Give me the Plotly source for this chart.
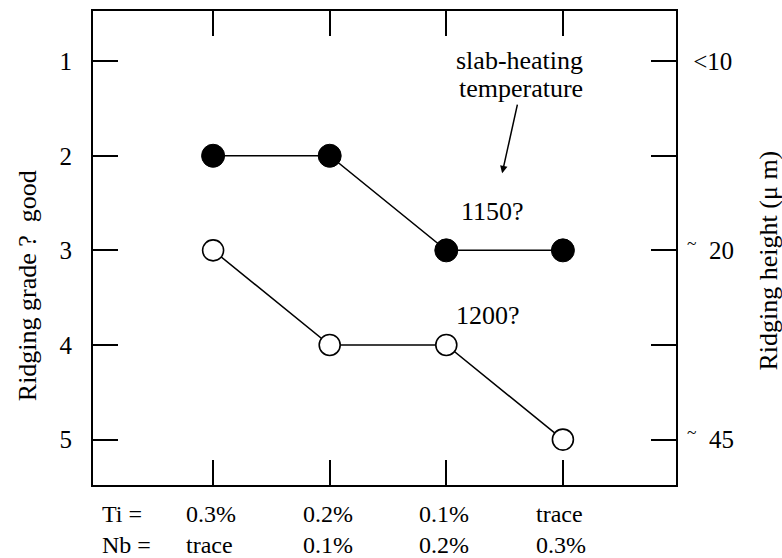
import plotly.graph_objects as go

# Ti / Nb composition of each steel (x categories)
ti_levels = ["0.3%", "0.2%", "0.1%", "trace"]
nb_levels = ["trace", "0.1%", "0.2%", "0.3%"]
x_idx = [0, 1, 2, 3]

# Ridging grade for the two slab-heating temperatures
grade_1150 = [2, 2, 3, 3]
grade_1200 = [3, 4, 4, 5]

# Left axis: ridging grade; right axis: ridging height (um) at selected grades
grade_ticks = [1, 2, 3, 4, 5]
height_ticks = [1, 3, 5]
height_labels = ["\u00a0<10", "<sup>~</sup>\u00a0\u00a020", "<sup>~</sup>\u00a0\u00a045"]

FONT = "Liberation Serif"
BLACK = "#000000"


def serif(size):
    return dict(family=FONT, size=size, color=BLACK)


fig = go.Figure()

fig.add_trace(go.Scatter(
    x=x_idx, y=grade_1150, mode="lines+markers",
    line=dict(color=BLACK, width=1.5),
    marker=dict(symbol="circle", size=23, color=BLACK, line=dict(color=BLACK, width=1)),
    showlegend=False, hoverinfo="skip",
))
fig.add_trace(go.Scatter(
    x=x_idx, y=grade_1200, mode="lines+markers",
    line=dict(color=BLACK, width=1.5),
    marker=dict(symbol="circle", size=21, color="white", line=dict(color=BLACK, width=1.6)),
    showlegend=False, hoverinfo="skip",
))
# carrier for the right-hand height axis
fig.add_trace(go.Scatter(x=[None], y=[None], yaxis="y2", showlegend=False, hoverinfo="skip"))

yrange = [5.48, 0.47]

fig.update_layout(
    width=782, height=558,
    margin=dict(l=93, r=106, t=9, b=73),
    paper_bgcolor="white", plot_bgcolor="white",
    font=serif(24),
    xaxis=dict(
        range=[-1.03, 3.97], tickvals=x_idx, showticklabels=False,
        ticks="inside", ticklen=25, tickwidth=1.5, tickcolor=BLACK,
        showline=True, linewidth=2, linecolor=BLACK, mirror="ticks",
        showgrid=False, zeroline=False,
    ),
    yaxis=dict(
        range=yrange, tickvals=grade_ticks, ticktext=[str(v) for v in grade_ticks],
        tickfont=serif(25),
        ticks="inside", ticklen=25, tickwidth=1.5, tickcolor=BLACK,
        ticklabelstandoff=14,
        showline=True, linewidth=2, linecolor=BLACK, mirror="ticks",
        showgrid=False, zeroline=False,
    ),
    yaxis2=dict(
        range=yrange, overlaying="y", side="right",
        tickvals=height_ticks, ticktext=height_labels,
        tickfont=serif(25),
        ticks="", ticklabelstandoff=10,
        showline=False, showgrid=False, zeroline=False,
    ),
)

annotations = []

# composition labels under each steel
for i, (ti, nb) in enumerate(zip(ti_levels, nb_levels)):
    annotations.append(dict(
        x=i - 0.25, y=0, xref="x", yref="paper", yanchor="top", xanchor="left",
        yshift=-14, text=f"{ti}<br>{nb}", align="left", showarrow=False,
        font=serif(24),
    ))
annotations.append(dict(
    x=0.012, y=0, xref="paper", yref="paper", yanchor="top", xanchor="left",
    yshift=-14, text="Ti =<br>Nb =", align="left", showarrow=False,
    font=serif(24),
))

# axis titles
annotations.append(dict(
    x=-0.111, y=0.42, xref="paper", yref="paper", xanchor="center", yanchor="middle",
    textangle=-90, text="Ridging grade ?\u00a0\u00a0good", showarrow=False, font=serif(26),
))
annotations.append(dict(
    x=1.159, y=0.473, xref="paper", yref="paper", xanchor="center", yanchor="middle",
    textangle=-90, text="Ridging height (μ m)", showarrow=False, font=serif(26),
))

# series labels and call-out
annotations += [
    dict(x=2.625, y=0.99, xref="x", yref="y", text="slab-heating", showarrow=False, font=serif(26)),
    dict(x=2.479, y=2.186, ax=2.64, ay=1.29, xref="x", yref="y", axref="x", ayref="y",
         text="temperature", font=serif(26), showarrow=True, standoff=0,
         arrowhead=2, arrowsize=1, arrowwidth=1.5, arrowcolor=BLACK),
    dict(x=2.40, y=2.586, xref="x", yref="y", text="1150?", showarrow=False, font=serif(26)),
    dict(x=2.357, y=3.692, xref="x", yref="y", text="1200?", showarrow=False, font=serif(26)),
]

fig.update_layout(annotations=annotations)

fig.write_html("out.html")
